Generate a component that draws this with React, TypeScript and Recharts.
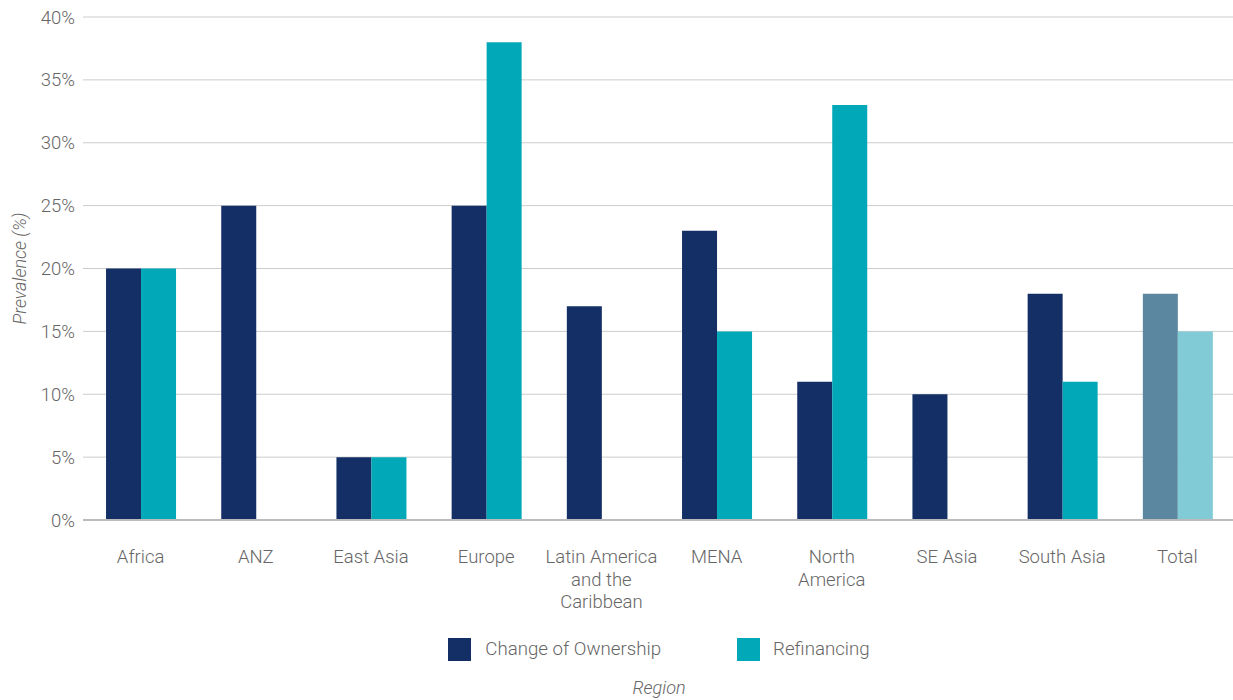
import React from 'react';
import { BarChart, Bar, XAxis, YAxis, CartesianGrid, Legend, Cell, Label } from 'recharts';

const regions = ['Africa', 'ANZ', 'East Asia', 'Europe', 'Latin America and the Caribbean', 'MENA', 'North America', 'SE Asia', 'South Asia', 'Total'];
const tickLines: Record<string, string[]> = {
  'Latin America and the Caribbean': ['Latin America', 'and the', 'Caribbean'],
  'North America': ['North', 'America'],
};
const changeOfOwnership = [20, 25, 5, 25, 17, 23, 11, 10, 18, 18];
const refinancing = [20, 0, 5, 38, 0, 15, 33, 0, 11, 15];
const yTicks = [0, 5, 10, 15, 20, 25, 30, 35, 40];

const data = regions.map((r, i) => ({ region: r, change: changeOfOwnership[i], refi: refinancing[i] }));

const FONT = 'Roboto, sans-serif';
const TXT = '#666666';
const C1 = '#132f66';
const C2 = '#00a8b8';
const C1T = '#5b88a0';
const C2T = '#80cbd5';

const XTick = (props: any) => {
  const { x, y, payload } = props;
  const lines = tickLines[payload.value] || [payload.value];
  return (
    <g>
      {lines.map((l, i) => (
        <text key={i} x={x} y={y + 35 + i * 22.5} textAnchor="middle" fill={TXT} fontFamily={FONT} fontWeight={300} fontSize={18.5}>
          {l}
        </text>
      ))}
    </g>
  );
};

const LegendContent = () => (
  <div style={{ fontFamily: FONT, fontWeight: 300, color: TXT, fontSize: 18.7 }}>
    <div style={{ display: 'flex', justifyContent: 'center', alignItems: 'center', height: 24 }}>
      <span style={{ display: 'inline-block', width: 23, height: 23, background: C1, marginRight: 14 }} />
      <span style={{ marginRight: 76 }}>Change of Ownership</span>
      <span style={{ display: 'inline-block', width: 23, height: 23, background: C2, marginRight: 13 }} />
      <span>Refinancing</span>
    </div>
    <div style={{ textAlign: 'center', fontStyle: 'italic', fontSize: 18, marginTop: 16 }}>Region</div>
  </div>
);

export default function App() {
  return (
    <div style={{ position: 'absolute', left: 0, top: 0 }}>
      <BarChart width={1233} height={700} data={data} margin={{ top: 17, right: -2, left: 0, bottom: 0 }} barCategoryGap="20%" barGap={0}>
        <CartesianGrid horizontal vertical={false} stroke="#cccccc" strokeWidth={1} />
        <XAxis dataKey="region" interval={0} height={180} axisLine={{ stroke: '#bbbbbb', strokeWidth: 2 }} tickLine={false} tick={<XTick />} />
        <YAxis
          width={83}
          domain={[0, 40]}
          ticks={yTicks}
          axisLine={false}
          tickLine={false}
          tickFormatter={(v: number) => `${v}%`}
          tick={{ fill: TXT, fontFamily: FONT, fontWeight: 300, fontSize: 18.5 }}
        >
          <Label
            content={({ viewBox }: any) => {
              const cy = viewBox.y + viewBox.height / 2;
              return (
                <text x={26} y={cy} transform={`rotate(-90 26 ${cy})`} textAnchor="middle" fill={TXT} fontFamily={FONT} fontWeight={300} fontStyle="italic" fontSize={18}>
                  Prevalence (%)
                </text>
              );
            }}
          />
        </YAxis>
        <Legend layout="horizontal" verticalAlign="middle" align="center" wrapperStyle={{ top: 637, left: 83, width: 1152 }} content={<LegendContent />} />
        <Bar dataKey="change" name="Change of Ownership" fill={C1} isAnimationActive={false}>
          {data.map((d, i) => (
            <Cell key={i} fill={d.region === 'Total' ? C1T : C1} />
          ))}
        </Bar>
        <Bar dataKey="refi" name="Refinancing" fill={C2} isAnimationActive={false}>
          {data.map((d, i) => (
            <Cell key={i} fill={d.region === 'Total' ? C2T : C2} />
          ))}
        </Bar>
      </BarChart>
    </div>
  );
}
